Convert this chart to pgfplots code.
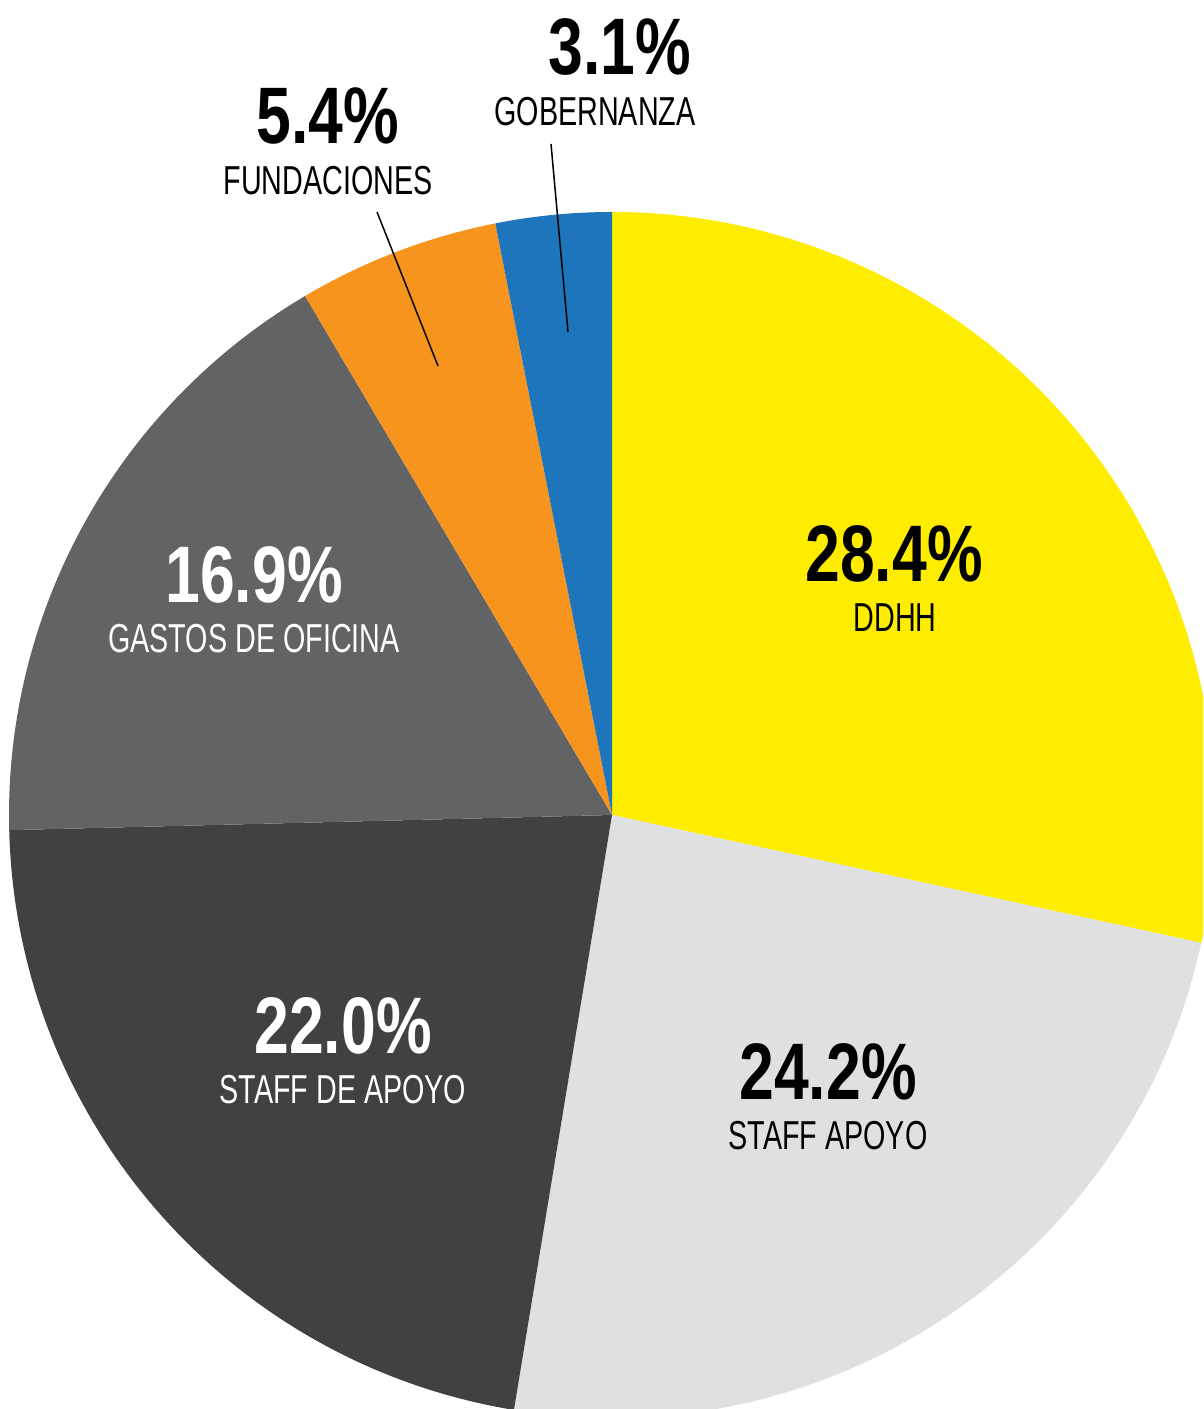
\documentclass[border=0pt]{standalone}
\usepackage{pgfplots}
\pgfplotsset{compat=1.18}
\usepackage{fontspec}
\setmainfont{Liberation Sans}[FakeStretch=0.71]
\newfontfamily\pctfont{Liberation Sans Bold}[FakeStretch=0.78]
\definecolor{cY}{HTML}{FFED00}
\definecolor{cL}{HTML}{DFE0E1}
\definecolor{cD}{HTML}{414042}
\definecolor{cM}{HTML}{626365}
\definecolor{cO}{HTML}{F7941E}
\definecolor{cB}{HTML}{1F75BB}
\newcommand{\pct}[1]{{\pctfont\fontsize{22.8pt}{24pt}\selectfont #1}}
\newcommand{\lbl}[1]{{\fontsize{11.5pt}{12pt}\selectfont #1}}
\begin{document}
\begin{tikzpicture}
% shares (percent), clockwise from 12 o'clock
\def\vA{28.4}% DDHH
\def\vB{24.2}% STAFF APOYO
\def\vC{22.0}% STAFF DE APOYO
\def\vD{16.9}% GASTOS DE OFICINA
\def\vE{5.4}%  FUNDACIONES
\def\vF{3.1}%  GOBERNANZA
\pgfmathsetmacro\aA{90-3.6*\vA}
\pgfmathsetmacro\aB{\aA-3.6*\vB}
\pgfmathsetmacro\aC{\aB-3.6*\vC}
\pgfmathsetmacro\aD{\aC-3.6*\vD}
\pgfmathsetmacro\aE{\aD-3.6*\vE}
\pgfmathsetmacro\aF{\aE-3.6*\vF}
\begin{axis}[
  width=120.3mm, height=140.9mm, scale only axis,
  xmin=0, xmax=1203, ymin=-1409, ymax=0,
  hide axis, clip=true,
]
\fill[cY] (axis cs:612,-815) -- ++(90:60.3mm) arc[start angle=90, end angle=\aA, radius=60.3mm] -- cycle;
\fill[cL] (axis cs:612,-815) -- ++(\aA:60.3mm) arc[start angle=\aA, end angle=\aB, radius=60.3mm] -- cycle;
\fill[cD] (axis cs:612,-815) -- ++(\aB:60.3mm) arc[start angle=\aB, end angle=\aC, radius=60.3mm] -- cycle;
\fill[cM] (axis cs:612,-815) -- ++(\aC:60.3mm) arc[start angle=\aC, end angle=\aD, radius=60.3mm] -- cycle;
\fill[cO] (axis cs:612,-815) -- ++(\aD:60.3mm) arc[start angle=\aD, end angle=\aE, radius=60.3mm] -- cycle;
\fill[cB] (axis cs:612,-815) -- ++(\aE:60.3mm) arc[start angle=\aE, end angle=\aF, radius=60.3mm] -- cycle;
% leader lines
\draw[black, line width=0.15mm] (axis cs:377,-212) -- (axis cs:438,-366);
\draw[black, line width=0.15mm] (axis cs:551,-144) -- (axis cs:568,-332);
% labels
\node[anchor=base, inner sep=0pt] at (axis cs:620,-75) {\pct{3.1\%}};
\node[anchor=base, inner sep=0pt] at (axis cs:595,-126) {\lbl{GOBERNANZA}};
\node[anchor=base, inner sep=0pt] at (axis cs:328,-144) {\pct{5.4\%}};
\node[anchor=base, inner sep=0pt] at (axis cs:328,-195) {\lbl{FUNDACIONES}};
\node[anchor=base, inner sep=0pt] at (axis cs:894,-582) {\pct{28.4\%}};
\node[anchor=base, inner sep=0pt] at (axis cs:895,-632) {\lbl{DDHH}};
\node[anchor=base, inner sep=0pt, white] at (axis cs:254,-603) {\pct{16.9\%}};
\node[anchor=base, inner sep=0pt, white] at (axis cs:254,-653) {\lbl{GASTOS DE OFICINA}};
\node[anchor=base, inner sep=0pt, white] at (axis cs:343,-1054) {\pct{22.0\%}};
\node[anchor=base, inner sep=0pt, white] at (axis cs:343,-1104) {\lbl{STAFF DE APOYO}};
\node[anchor=base, inner sep=0pt] at (axis cs:828,-1100) {\pct{24.2\%}};
\node[anchor=base, inner sep=0pt] at (axis cs:828,-1150) {\lbl{STAFF APOYO}};
\end{axis}
\pgfresetboundingbox
\useasboundingbox (current axis.south west) rectangle (current axis.north east);
\end{tikzpicture}
\end{document}
